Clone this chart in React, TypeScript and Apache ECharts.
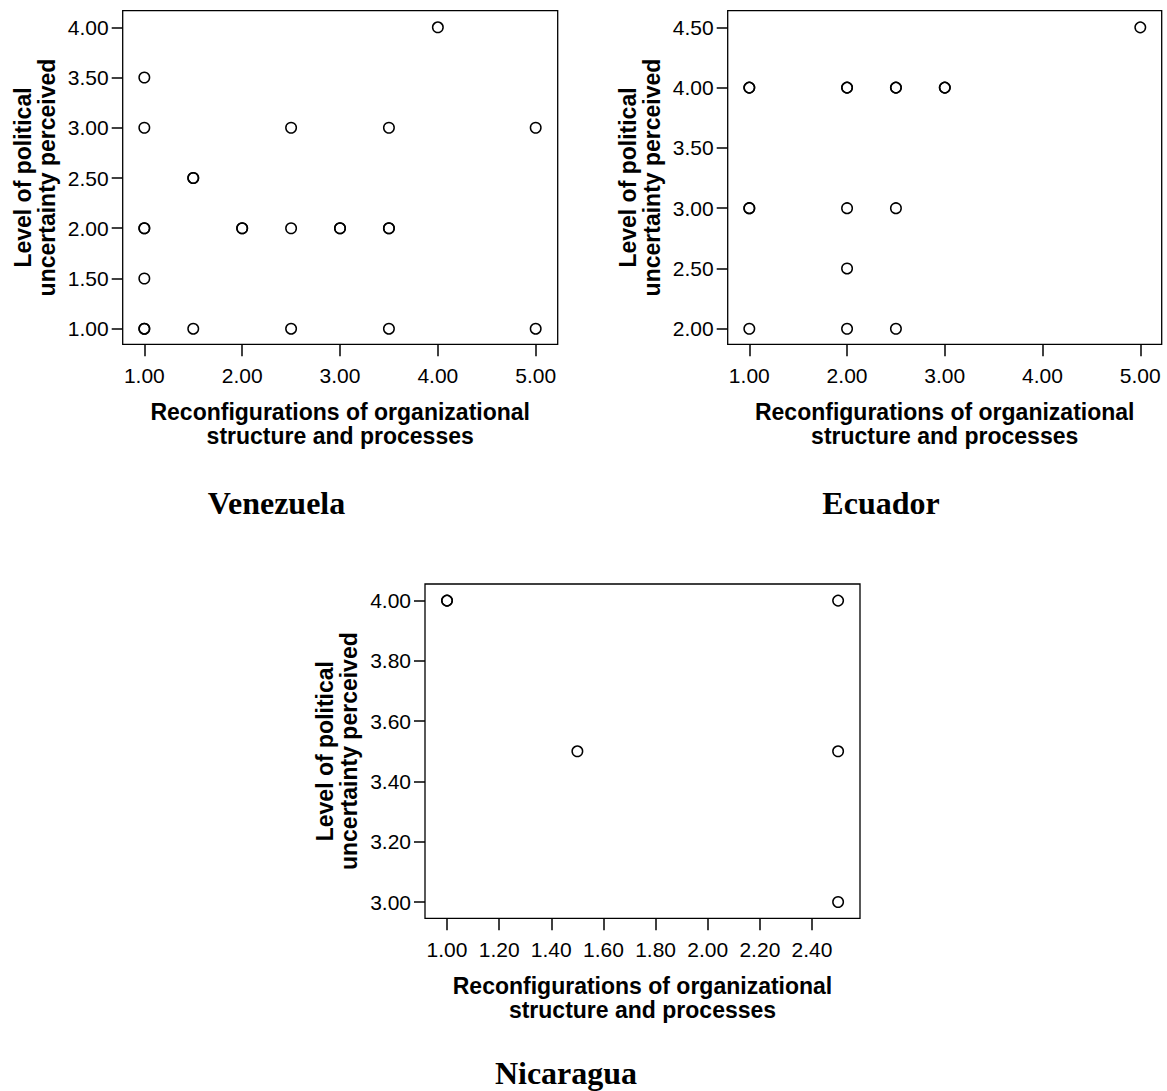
import React, { useEffect, useRef } from "react";
import * as echarts from "echarts";

// Venezuela
const venezuelaX = [1, 1, 1, 1, 1, 1, 1, 1.5, 1.5, 1.5, 2, 2, 2.5, 2.5, 2.5, 3, 3, 3.5, 3.5, 3.5, 3.5, 4, 5, 5];
const venezuelaY = [3.5, 3, 2, 2, 1.5, 1, 1, 2.5, 2.5, 1, 2, 2, 3, 2, 1, 2, 2, 3, 2, 2, 1, 4, 3, 1];
const venezuelaXTicks = [1, 2, 3, 4, 5];
const venezuelaYTicks = [1, 1.5, 2, 2.5, 3, 3.5, 4];

// Ecuador
const ecuadorX = [1, 1, 1, 1, 1, 2, 2, 2, 2, 2, 2.5, 2.5, 2.5, 2.5, 3, 3, 5];
const ecuadorY = [4, 4, 3, 3, 2, 4, 4, 3, 2.5, 2, 4, 4, 3, 2, 4, 4, 4.5];
const ecuadorXTicks = [1, 2, 3, 4, 5];
const ecuadorYTicks = [2, 2.5, 3, 3.5, 4, 4.5];

// Nicaragua
const nicaraguaX = [1, 1, 1.5, 2.5, 2.5, 2.5];
const nicaraguaY = [4, 4, 3.5, 4, 3.5, 3];
const nicaraguaXTicks = [1, 1.2, 1.4, 1.6, 1.8, 2, 2.2, 2.4];
const nicaraguaYTicks = [3, 3.2, 3.4, 3.6, 3.8, 4];

const countries = ["Venezuela", "Ecuador", "Nicaragua"];
const xTitle = "Reconfigurations of organizational\nstructure and processes";
const yTitle = "Level of political\nuncertainty perceived";

const SANS = "Arial, 'Liberation Sans', sans-serif";
const SERIF = "'Times New Roman', 'Liberation Serif', serif";

function pairs(xs: number[], ys: number[]) {
  return xs.map((x, i) => [x, ys[i]]);
}

export default function App() {
  const ref = useRef<HTMLDivElement>(null);

  useEffect(() => {
    if (!ref.current) return;
    const chart = echarts.init(ref.current, null, { renderer: "svg" });

    const grids = [
      { left: 122.7, top: 10.7, width: 435, height: 333.6 },
      { left: 727.7, top: 10.7, width: 434, height: 333.6 },
      { left: 425, top: 584, width: 435, height: 334.3 },
    ].map((g) => ({
      ...g,
      show: true,
      borderColor: "#000",
      borderWidth: 1.3,
      backgroundColor: "#fff",
      containLabel: false,
    }));

    const ranges = [
      { xmin: 0.779, xmax: 5.225, ymin: 0.845, ymax: 4.165, xt: venezuelaXTicks, yt: venezuelaYTicks },
      { xmin: 0.779, xmax: 5.219, ymin: 1.871, ymax: 4.638, xt: ecuadorXTicks, yt: ecuadorYTicks },
      { xmin: 0.9156, xmax: 2.584, ymin: 2.946, ymax: 4.055, xt: nicaraguaXTicks, yt: nicaraguaYTicks },
    ];

    const fmt = (v: number) => Number(v).toFixed(2);

    const xAxes = ranges.map((r, i) => ({
      type: "value",
      gridIndex: i,
      min: r.xmin,
      max: r.xmax,
      axisLine: { show: false },
      splitLine: { show: false },
      axisTick: {
        show: true,
        length: 12,
        customValues: r.xt,
        lineStyle: { color: "#000", width: 1.5 },
      },
      axisLabel: {
        customValues: r.xt,
        formatter: fmt,
        color: "#000",
        fontFamily: SANS,
        fontSize: 21,
        margin: 21,
        verticalAlign: "top",
      },
      name: xTitle,
      nameLocation: "middle",
      nameGap: 56,
      nameTextStyle: {
        color: "#000",
        fontFamily: SANS,
        fontWeight: "bold",
        fontSize: 23,
        lineHeight: 24,
      },
    }));

    const yAxes = ranges.map((r, i) => ({
      type: "value",
      gridIndex: i,
      min: r.ymin,
      max: r.ymax,
      axisLine: { show: false },
      splitLine: { show: false },
      axisTick: {
        show: true,
        length: 11,
        customValues: r.yt,
        lineStyle: { color: "#000", width: 1.5 },
      },
      axisLabel: {
        customValues: r.yt,
        formatter: fmt,
        color: "#000",
        fontFamily: SANS,
        fontSize: 21,
        margin: 14,
        padding: [6, 0, 0, 0],
      },
      name: yTitle,
      nameLocation: "middle",
      nameRotate: 90,
      nameGap: 64,
      nameTextStyle: {
        color: "#000",
        fontFamily: SANS,
        fontWeight: "bold",
        fontSize: 23,
        lineHeight: 24,
      },
    }));

    const datasets = [
      pairs(venezuelaX, venezuelaY),
      pairs(ecuadorX, ecuadorY),
      pairs(nicaraguaX, nicaraguaY),
    ];

    const series = datasets.map((d, i) => ({
      type: "scatter",
      name: countries[i],
      xAxisIndex: i,
      yAxisIndex: i,
      data: d,
      symbol: "circle",
      symbolSize: 10.5,
      itemStyle: {
        color: "rgba(0,0,0,0)",
        borderColor: "#000",
        borderWidth: 1.5,
        opacity: 1,
      },
      emphasis: { disabled: true },
    }));

    const titlePos = [
      [276.5, 503],
      [881, 503],
      [566, 1073],
    ];

    const graphic = countries.map((c, i) => ({
      type: "text",
      x: titlePos[i][0],
      y: titlePos[i][1],
      style: {
        text: c,
        fill: "#000",
        font: `bold 32px ${SERIF}`,
        textAlign: "center",
        textVerticalAlign: "middle",
      },
    }));

    chart.setOption({
      animation: false,
      backgroundColor: "#fff",
      grid: grids,
      xAxis: xAxes,
      yAxis: yAxes,
      series,
      graphic,
    } as any);

    return () => chart.dispose();
  }, []);

  return (
    <div
      ref={ref}
      style={{ position: "absolute", left: 0, top: 0, width: 1167, height: 1091, background: "#fff" }}
    />
  );
}
